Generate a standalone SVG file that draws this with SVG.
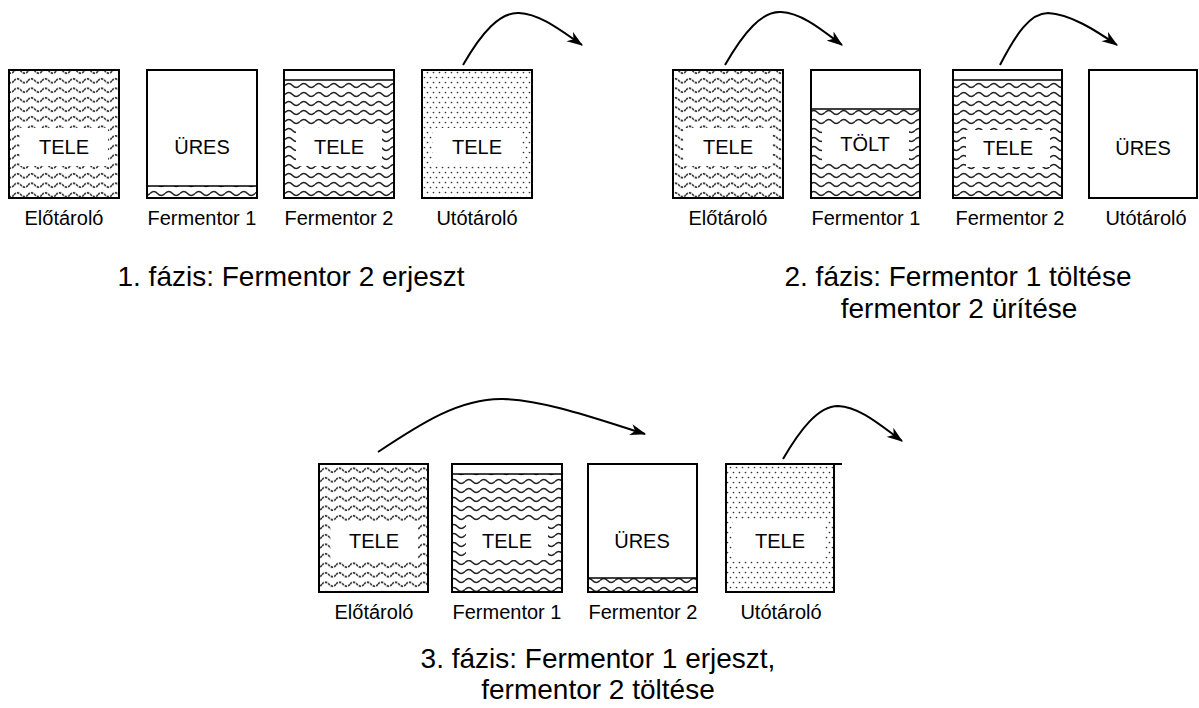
<svg xmlns="http://www.w3.org/2000/svg" width="1199" height="708" viewBox="0 0 1199 708">
<defs>
<pattern id="waveE" patternUnits="userSpaceOnUse" width="14" height="9.5">
<path d="M0,4.75 Q3.5,0.75 7,4.75 T14,4.75" fill="none" stroke="#222" stroke-width="1.5" stroke-dasharray="2.5 1"/>
</pattern>
<pattern id="waveF" patternUnits="userSpaceOnUse" width="15" height="9">
<path d="M0,4.5 Q3.75,0.5 7.5,4.5 T15,4.5" fill="none" stroke="#222" stroke-width="1.5"/>
</pattern>
<pattern id="dots" patternUnits="userSpaceOnUse" width="6" height="10">
<circle cx="1.5" cy="2.5" r="0.85" fill="#333"/>
<circle cx="4.5" cy="7.5" r="0.85" fill="#333"/>
</pattern>
<marker id="arr" markerUnits="userSpaceOnUse" viewBox="0 0 14 10" refX="13" refY="5" markerWidth="16" markerHeight="12" orient="auto">
<path d="M0,0 L14,5 L0,10 L4,5 z" fill="#000"/>
</marker>
</defs>
<style>
.tank{fill:none;stroke:#000;stroke-width:2}
.lvl{stroke:#000;stroke-width:1.5}
.lbox{fill:#fff}
.in{font-family:"Liberation Sans",Arial,sans-serif;font-size:20px;text-anchor:middle;fill:#000}
.name{font-family:"Liberation Sans",Arial,sans-serif;font-size:20px;text-anchor:middle;fill:#000}
.phase{font-family:"Liberation Sans",Arial,sans-serif;font-size:28px;text-anchor:middle;fill:#000}
.flow{fill:none;stroke:#000;stroke-width:2;marker-end:url(#arr)}
</style>

<!-- Phase 1 -->
<g id="p1-elotarolo">
<rect x="9" y="70" width="110" height="128" fill="url(#waveE)"/>
<rect class="lbox" x="20" y="128" width="88" height="38"/>
<text class="in" x="64" y="154">TELE</text>
<rect class="tank" x="9" y="70" width="110" height="128"/>
<text class="name" x="64" y="225">Előtároló</text>
</g>
<g id="p1-fermentor1">
<rect x="147" y="186" width="110" height="12" fill="url(#waveF)"/>
<line class="lvl" x1="147" y1="186" x2="257" y2="186"/>
<text class="in" x="202" y="154">ÜRES</text>
<rect class="tank" x="147" y="70" width="110" height="128"/>
<text class="name" x="202" y="225">Fermentor 1</text>
</g>
<g id="p1-fermentor2">
<rect x="284" y="80" width="110" height="118" fill="url(#waveF)"/>
<line class="lvl" x1="284" y1="80" x2="394" y2="80"/>
<rect class="lbox" x="296" y="128" width="86" height="38"/>
<text class="in" x="339" y="154">TELE</text>
<rect class="tank" x="284" y="70" width="110" height="128"/>
<text class="name" x="339" y="225">Fermentor 2</text>
</g>
<g id="p1-utotarolo">
<rect x="422" y="70" width="110" height="128" fill="url(#dots)"/>
<rect class="lbox" x="433" y="128" width="88" height="38"/>
<text class="in" x="477" y="154">TELE</text>
<rect class="tank" x="422" y="70" width="110" height="128"/>
<text class="name" x="477" y="225">Utótároló</text>
</g>
<g id="p1-caption">
<text class="phase" x="291" y="286">1. fázis: Fermentor 2 erjeszt</text>
</g>

<!-- Phase 2 -->
<g id="p2-elotarolo">
<rect x="673" y="70" width="110" height="128" fill="url(#waveE)"/>
<rect class="lbox" x="684" y="128" width="88" height="38"/>
<text class="in" x="728" y="154">TELE</text>
<rect class="tank" x="673" y="70" width="110" height="128"/>
<text class="name" x="728" y="225">Előtároló</text>
</g>
<g id="p2-fermentor1">
<rect x="811" y="109" width="109" height="89" fill="url(#waveF)"/>
<line class="lvl" x1="811" y1="109" x2="920" y2="109"/>
<rect class="lbox" x="822" y="125" width="87" height="38"/>
<text class="in" x="865" y="151">TÖLT</text>
<rect class="tank" x="811" y="70" width="109" height="128"/>
<text class="name" x="866" y="225">Fermentor 1</text>
</g>
<g id="p2-fermentor2">
<rect x="953" y="80" width="109" height="118" fill="url(#waveF)"/>
<line class="lvl" x1="953" y1="80" x2="1062" y2="80"/>
<rect class="lbox" x="966" y="130" width="84" height="37"/>
<text class="in" x="1008" y="155">TELE</text>
<rect class="tank" x="953" y="70" width="109" height="128"/>
<text class="name" x="1010" y="225">Fermentor 2</text>
</g>
<g id="p2-utotarolo">
<text class="in" x="1143" y="155">ÜRES</text>
<rect class="tank" x="1089" y="70" width="108" height="128"/>
<text class="name" x="1146" y="225">Utótároló</text>
</g>
<g id="p2-caption">
<text class="phase" x="958" y="286">2. fázis: Fermentor 1 töltése</text>
<text class="phase" x="959" y="318">fermentor 2 ürítése</text>
</g>

<!-- Phase 3 -->
<g id="p3-elotarolo">
<rect x="319" y="464" width="109" height="128" fill="url(#waveE)"/>
<rect class="lbox" x="331" y="522" width="87" height="38"/>
<text class="in" x="374" y="548">TELE</text>
<rect class="tank" x="319" y="464" width="109" height="128"/>
<text class="name" x="374" y="619">Előtároló</text>
</g>
<g id="p3-fermentor1">
<rect x="452" y="474" width="110" height="118" fill="url(#waveF)"/>
<line class="lvl" x1="452" y1="474" x2="562" y2="474"/>
<rect class="lbox" x="466" y="522" width="82" height="38"/>
<text class="in" x="507" y="548">TELE</text>
<rect class="tank" x="452" y="464" width="110" height="128"/>
<text class="name" x="507" y="619">Fermentor 1</text>
</g>
<g id="p3-fermentor2">
<rect x="588" y="578" width="109" height="14" fill="url(#waveF)"/>
<line class="lvl" x1="588" y1="578" x2="697" y2="578"/>
<text class="in" x="642" y="548">ÜRES</text>
<rect class="tank" x="588" y="464" width="109" height="128"/>
<text class="name" x="643" y="619">Fermentor 2</text>
</g>
<g id="p3-utotarolo">
<rect x="726" y="464" width="108" height="128" fill="url(#dots)"/>
<rect class="lbox" x="733" y="520" width="92" height="40"/>
<text class="in" x="780" y="548">TELE</text>
<rect class="tank" x="726" y="464" width="108" height="128"/>
<line class="lvl" x1="834" y1="464" x2="842" y2="464" style="stroke-width:2"/>
<text class="name" x="781" y="619">Utótároló</text>
</g>
<g id="p3-caption">
<text class="phase" x="598" y="668">3. fázis: Fermentor 1 erjeszt,</text>
<text class="phase" x="598" y="699">fermentor 2 töltése</text>
</g>

<!-- Connectors -->
<g id="connectors">
<path class="flow" d="M463,65 C482,32 500,12 519,13 C540,14 560,30 582,45"/>
<path class="flow" d="M725,65 C744,32 762,11 781,12 C802,13 822,30 842,45"/>
<path class="flow" d="M1000,65 C1016,34 1030,13 1048,13 C1070,14 1095,30 1117,45"/>
<path class="flow" d="M378,452 C420,424 460,398 503,399 C545,400 600,420 645,434"/>
<path class="flow" d="M783,459 C800,430 818,406 838,406 C860,407 880,425 902,441"/>
</g>
</svg>
